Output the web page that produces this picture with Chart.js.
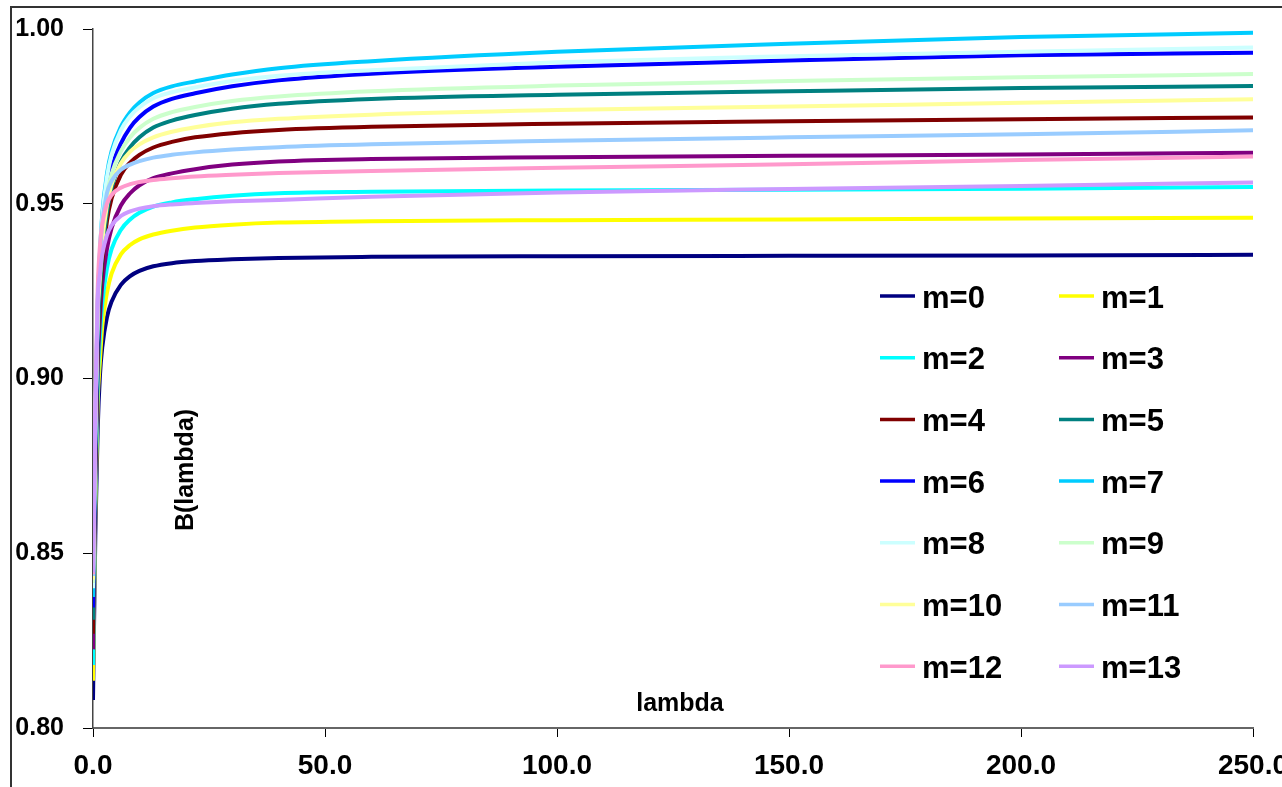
<!DOCTYPE html>
<html>
<head>
<meta charset="utf-8">
<title>B(lambda)</title>
<script src="https://cdn.jsdelivr.net/npm/chart.js@4.4.0/dist/chart.umd.min.js"></script>
<style>
    html, body { margin: 0; padding: 0; background: #fff; }
    #chartBox { width: 1282px; height: 787px; }
</style>
</head>
<body>
<div id="chartBox"><canvas id="bChart" width="1282" height="787"></canvas></div>
<script>
// sample points along lambda
const lambdaValues = [0, 0.5, 1, 1.5, 2, 3, 4, 6, 8, 10, 13, 17, 22, 30, 40, 60, 100, 150, 200, 250];

const xTicks = [0, 50, 100, 150, 200, 250];
const yTicks = [0.80, 0.85, 0.90, 0.95, 1.00];

const seriesNames = ['m=0', 'm=1', 'm=2', 'm=3', 'm=4', 'm=5', 'm=6',
                     'm=7', 'm=8', 'm=9', 'm=10', 'm=11', 'm=12', 'm=13'];

const seriesColors = ['#000080', '#FFFF00', '#00FFFF', '#800080', '#800000', '#008080', '#0000FF',
                      '#00CCFF', '#CCFFFF', '#CCFFCC', '#FFFF99', '#99CCFF', '#FF99CC', '#CC99FF'];

// B(lambda), one array per m
const m0  = [0.808, 0.855, 0.885, 0.901, 0.909, 0.9175, 0.9220, 0.9268, 0.9293, 0.9308, 0.9321, 0.9330, 0.9336, 0.9341, 0.9345, 0.9348, 0.9350, 0.9351, 0.9352, 0.9354];
const m1  = [0.8135, 0.862, 0.893, 0.905, 0.915, 0.9245, 0.9300, 0.9355, 0.9382, 0.9398, 0.9412, 0.9423, 0.9432, 0.9440, 0.9446, 0.9450, 0.9453, 0.9455, 0.9458, 0.9460];
const m2  = [0.818, 0.868, 0.898, 0.912, 0.9215, 0.9315, 0.9370, 0.9425, 0.9455, 0.9474, 0.9492, 0.9504, 0.9513, 0.9523, 0.9530, 0.9534, 0.9538, 0.9540, 0.9543, 0.9548];
const m3  = [0.8225, 0.872, 0.903, 0.917, 0.927, 0.937, 0.9430, 0.9495, 0.9530, 0.9553, 0.9573, 0.9587, 0.9599, 0.9612, 0.9621, 0.9628, 0.9633, 0.9637, 0.9641, 0.9646];
const m4  = [0.827, 0.876, 0.907, 0.922, 0.933, 0.945, 0.9515, 0.9583, 0.9618, 0.9640, 0.9661, 0.9677, 0.9690, 0.9702, 0.9711, 0.9720, 0.9729, 0.9736, 0.9742, 0.9747];
const m5  = [0.831, 0.879, 0.910, 0.925, 0.936, 0.9475, 0.9545, 0.9620, 0.9662, 0.9690, 0.9718, 0.9738, 0.9754, 0.9772, 0.9786, 0.9800, 0.9812, 0.9822, 0.9831, 0.9837];
const m6  = [0.8345, 0.882, 0.915, 0.931, 0.942, 0.9535, 0.9600, 0.9672, 0.9718, 0.9748, 0.9778, 0.9800, 0.9816, 0.9836, 0.9853, 0.9872, 0.9892, 0.9910, 0.9925, 0.9932];
const m7  = [0.8375, 0.884, 0.920, 0.936, 0.947, 0.9585, 0.9650, 0.9720, 0.9762, 0.9790, 0.9817, 0.9836, 0.9850, 0.9870, 0.9888, 0.9908, 0.9935, 0.9958, 0.9977, 0.9989];
const m8  = [0.840, 0.886, 0.920, 0.935, 0.946, 0.9575, 0.9640, 0.9710, 0.9750, 0.9776, 0.9802, 0.9819, 0.9833, 0.9851, 0.9866, 0.9882, 0.9905, 0.9922, 0.9935, 0.9947];
const m9  = [0.8415, 0.887, 0.919, 0.932, 0.942, 0.9525, 0.9585, 0.9650, 0.9690, 0.9717, 0.9743, 0.9762, 0.9777, 0.9794, 0.9807, 0.9822, 0.9838, 0.9851, 0.9862, 0.9871];
const m10 = [0.8425, 0.888, 0.918, 0.929, 0.939, 0.9495, 0.9555, 0.9615, 0.9649, 0.9670, 0.9690, 0.9706, 0.9719, 0.9733, 0.9743, 0.9755, 0.9768, 0.9778, 0.9789, 0.9799];
const m11 = [0.8435, 0.889, 0.922, 0.935, 0.9445, 0.9530, 0.9565, 0.9597, 0.9612, 0.9622, 0.9632, 0.9640, 0.9647, 0.9655, 0.9662, 0.9670, 0.9680, 0.9690, 0.9699, 0.9710];
const m12 = [0.844, 0.890, 0.925, 0.938, 0.9442, 0.9500, 0.9525, 0.9546, 0.9556, 0.9562, 0.9568, 0.9573, 0.9578, 0.9583, 0.9588, 0.9594, 0.9603, 0.9613, 0.9625, 0.9635];
const m13 = [0.8445, 0.891, 0.922, 0.930, 0.9355, 0.9410, 0.9438, 0.9465, 0.9478, 0.9486, 0.9493, 0.9498, 0.9502, 0.9507, 0.9511, 0.9520, 0.9532, 0.9542, 0.9551, 0.9561];

const seriesValues = [m0, m1, m2, m3, m4, m5, m6, m7, m8, m9, m10, m11, m12, m13];

const FONT = "'Liberation Sans', Arial, sans-serif";

// grey frame of the chart object (only left and top edge are in view)
const framePlugin = {
    id: 'frame',
    beforeDraw(chart) {
        const ctx = chart.ctx;
        ctx.save();
        ctx.fillStyle = '#fff';
        ctx.fillRect(0, 0, chart.width, chart.height);
        ctx.strokeStyle = '#333';
        ctx.lineWidth = 2;
        ctx.beginPath();
        ctx.moveTo(11, chart.height + 5);
        ctx.lineTo(11, 7);
        ctx.lineTo(chart.width + 5, 7);
        ctx.stroke();
        ctx.restore();
    }
};

// axis titles sit inside the plot area in the original
const axisTitlePlugin = {
    id: 'axisTitles',
    afterDatasetsDraw(chart) {
        const ctx = chart.ctx;
        ctx.save();
        ctx.fillStyle = '#000';
        ctx.font = 'bold 25px ' + FONT;
        ctx.textAlign = 'center';
        ctx.textBaseline = 'middle';
        ctx.fillText('lambda', 680, 704);
        ctx.translate(186, 470);
        ctx.rotate(-Math.PI / 2);
        ctx.fillText('B(lambda)', 0, 0);
        ctx.restore();
    }
};

// two column legend inside the plot area
const legendPlugin = {
    id: 'twoColLegend',
    afterDraw(chart) {
        const ctx = chart.ctx;
        ctx.save();
        ctx.font = 'bold 31px ' + FONT;
        ctx.textBaseline = 'middle';
        ctx.textAlign = 'left';
        chart.data.datasets.forEach((ds, i) => {
            const x0 = 880 + (i % 2) * 179;
            const y = 296 + Math.floor(i / 2) * 61.7;
            ctx.strokeStyle = ds.borderColor;
            ctx.lineWidth = 3.5;
            ctx.beginPath();
            ctx.moveTo(x0, y);
            ctx.lineTo(x0 + 35, y);
            ctx.stroke();
            ctx.fillStyle = '#000';
            ctx.fillText(ds.label, x0 + 42, y + 3);
        });
        ctx.restore();
    }
};

const datasets = seriesValues.map((vals, i) => ({
    label: seriesNames[i],
    data: lambdaValues.map((x, k) => ({ x: x, y: vals[k] })),
    borderColor: seriesColors[i],
    backgroundColor: seriesColors[i],
    borderWidth: 4,
    pointRadius: 0,
    fill: false,
    cubicInterpolationMode: 'monotone',
    order: seriesValues.length - i
}));

new Chart(document.getElementById('bChart').getContext('2d'), {
    type: 'line',
    data: { datasets: datasets },
    options: {
        responsive: false,
        animation: false,
        layout: { padding: { left: 0, top: 29, right: 29, bottom: 0 } },
        plugins: {
            legend: { display: false },
            tooltip: { enabled: false }
        },
        scales: {
            x: {
                type: 'linear',
                min: 0,
                max: 250,
                afterBuildTicks: (s) => { s.ticks = xTicks.map(v => ({ value: v })); },
                afterFit: (s) => { s.height = 59; s.paddingLeft = 0; s.paddingRight = 0; },
                grid: { drawOnChartArea: false, drawTicks: true, tickLength: 9, tickColor: '#000', tickWidth: 1 },
                border: { color: '#666', width: 2 },
                ticks: {
                    font: { family: FONT, size: 28, weight: 'bold' },
                    color: '#000',
                    padding: 12,
                    maxRotation: 0,
                    autoSkip: false,
                    callback: (v) => Number(v).toFixed(1)
                }
            },
            y: {
                type: 'linear',
                min: 0.80,
                max: 1.00,
                afterBuildTicks: (s) => { s.ticks = yTicks.map(v => ({ value: v })); },
                afterFit: (s) => { s.width = 93; s.paddingTop = 0; s.paddingBottom = 0; },
                grid: { drawOnChartArea: false, drawTicks: true, tickLength: 10, tickColor: '#000', tickWidth: 1 },
                border: { color: '#444', width: 1.5 },
                ticks: {
                    font: { family: FONT, size: 25, weight: 'bold' },
                    color: '#000',
                    padding: 19,
                    autoSkip: false,
                    callback: (v) => Number(v).toFixed(2)
                }
            }
        }
    },
    plugins: [framePlugin, axisTitlePlugin, legendPlugin]
});
</script>
</body>
</html>
